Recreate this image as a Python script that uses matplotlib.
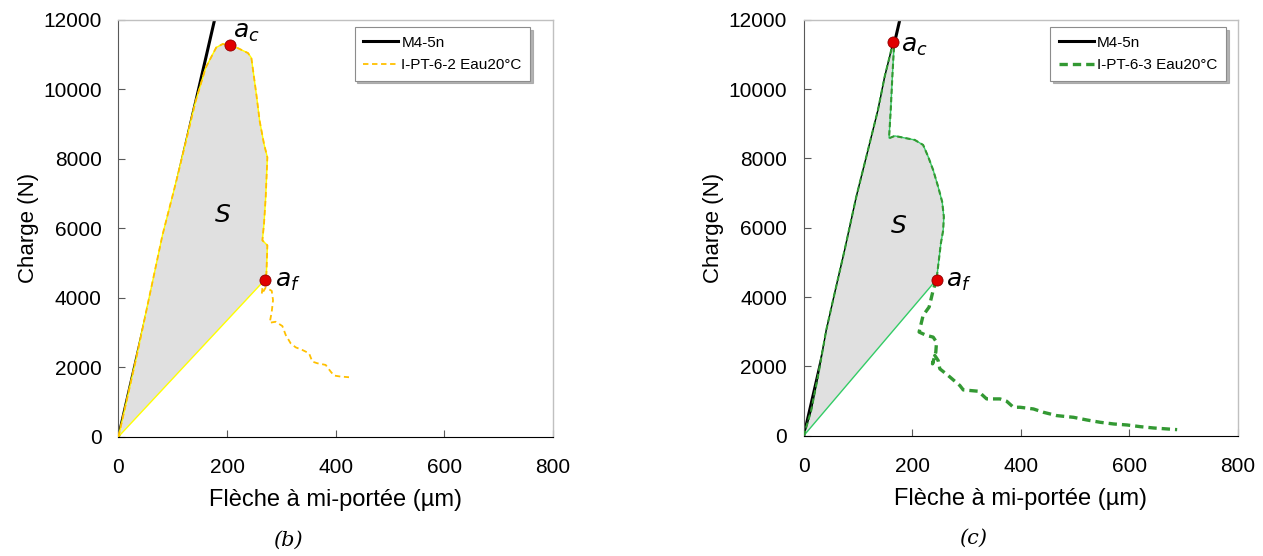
import numpy as np
import matplotlib
matplotlib.use('Agg')
import matplotlib.pyplot as plt

plt.rcParams['font.family'] = ['Liberation Sans', 'DejaVu Sans']

# reference curve M4-5n (straight line from origin)
ref_x = [0, 185]
ref_y = [0, 12540]

# panel (b): I-PT-6-2 Eau20°C
b_load_x = [0, 32, 62.6, 81, 105.6, 142, 160.7, 180, 192, 204.8, 220, 238.5, 244.7, 253.9, 260,
            268, 274.2, 271.1, 268, 265, 274.2, 272.4, 270]
b_load_y = [0, 2208, 4450, 5800, 7300, 9650, 10621, 11200, 11300, 11260, 11180, 11040, 10900, 9850, 9083,
            8422, 8039, 6892, 6128, 5650, 5506, 4694, 4522]
b_post_x = [270, 265, 263.8, 271.1, 282.2, 284.6, 282.2, 278.5, 289.5, 301.8, 308, 317.1, 326.3,
            338.6, 350.9, 357, 366.2, 381.5, 390.7, 396.9, 409, 424.5]
b_post_y = [4522, 4264, 4100, 4293, 4197, 3929, 3594, 3279, 3307, 3183, 2925, 2686, 2571,
            2495, 2400, 2160, 2113, 2065, 1874, 1759, 1730, 1711]
b_ac = (204.8, 11260)
b_af = (270, 4522)

# panel (c): I-PT-6-3 Eau20°C
c_load_x = [0, 13.6, 25.9, 41.3, 56.7, 75.2, 96.8, 118.4, 136.8, 149.2, 158.4, 164.6, 166.4, 163.3,
            160.3, 157.2, 167.7, 186.1, 204.6, 220, 229.3, 238.5, 247.7, 255.1, 258.2, 257, 252.7,
            249, 244.7]
c_load_y = [0, 723, 1687, 3037, 4098, 5351, 6894, 8244, 9401, 10365, 10944, 11349, 11233, 10365,
            9401, 8582, 8649, 8591, 8533, 8389, 8051, 7666, 7183, 6750, 6316, 5930, 5544,
            5062, 4503]
c_post_x = [244.7, 238.5, 231.1, 220, 212.6, 226.2, 238.5, 244.7, 243.4, 237.3, 241.6, 247.7,
            250.8, 266.2, 287.8, 294, 321.7, 337.1, 361.7, 374.1, 386.4, 398.7, 423.4, 441.8,
            466.5, 497.3, 521.9, 546.6, 571.2, 595.9, 620.5, 645.2, 688.3]
c_post_y = [4503, 4194, 3712, 3471, 2989, 2893, 2844, 2700, 2410, 2073, 2314, 2170,
            1929, 1736, 1446, 1321, 1282, 1061, 1061, 993, 820, 820, 771, 675,
            579, 530, 453, 386, 338, 309, 260, 222, 174]
c_ac = (164.6, 11349)
c_af = (244.7, 4503)

fig = plt.figure(figsize=(12.63, 5.56), dpi=100)
ax_b = fig.add_axes([0.0938, 0.2146, 0.344, 0.75])
ax_c = fig.add_axes([0.6364, 0.2164, 0.3436, 0.748])

panels = [
    dict(ax=ax_b, lx=b_load_x, ly=b_load_y, px=b_post_x, py=b_post_y, ac=b_ac, af=b_af,
         lab='I-PT-6-2 Eau20°C', dcol='#FFC000', ecol='#FFFF00', lw_load=1.3, lw_post=1.3,
         dash=(3, 2), edge_black=False, ac_off=(5.5, 230), af_off=(18, -216), spos=(192, 6390),
         tag='(b)', tag_x=0.39, leg_x=0.965),
    dict(ax=ax_c, lx=c_load_x, ly=c_load_y, px=c_post_x, py=c_post_y, ac=c_ac, af=c_af,
         lab='I-PT-6-3 Eau20°C', dcol='#339933', ecol='#33CC66', lw_load=1.5, lw_post=2.4,
         dash=(2.5, 1.5), edge_black=True, ac_off=(15, -260), af_off=(18, -213), spos=(174, 6060),
         tag='(c)', tag_x=0.39, leg_x=0.99),
]

for p in panels:
    ax = p['ax']
    ax.plot(ref_x, ref_y, color='black', lw=2.2, zorder=2, label='M4-5n')
    # area S between loading curve and chord af -> origin
    ax.fill(list(p['lx']) + [0], list(p['ly']) + [0], facecolor='#E0E0E0',
            edgecolor=p['ecol'], lw=1.0, zorder=3)
    if p['edge_black']:
        n = p['lx'].index(p['ac'][0]) + 1
        ax.plot(p['lx'][:n], p['ly'][:n], color='black', lw=0.9, zorder=3.5)
    ax.plot(p['lx'], p['ly'], color=p['dcol'], lw=p['lw_load'], dashes=p['dash'], zorder=4)
    ax.plot(p['px'], p['py'], color=p['dcol'], lw=p['lw_post'], dashes=p['dash'], zorder=4)
    # legend proxy for the test curve
    ax.plot([], [], color=p['dcol'], lw=p['lw_post'], dashes=p['dash'], label=p['lab'])
    for pt in (p['ac'], p['af']):
        ax.plot(pt[0], pt[1], 'o', ms=8, mfc='#E00000', mec='#900000', mew=0.6, zorder=6)
    ac, af = p['ac'], p['af']
    ax.text(ac[0] + p['ac_off'][0], ac[1] + p['ac_off'][1], '$a_c$', fontsize=18,
            va='baseline', ha='left', zorder=7)
    ax.text(af[0] + p['af_off'][0], af[1] + p['af_off'][1], '$a_f$', fontsize=18,
            va='baseline', ha='left', zorder=7)
    ax.text(p['spos'][0], p['spos'][1], '$S$', fontsize=18, ha='center', va='center', zorder=7)

    ax.set_xlim(0, 800)
    ax.set_ylim(0, 12000)
    ax.set_xticks([0, 200, 400, 600, 800])
    ax.set_yticks(range(0, 12001, 2000))
    ax.tick_params(direction='in', labelsize=15, length=5, color='#595959')
    ax.tick_params(axis='y', pad=12)
    ax.tick_params(axis='x', pad=15)
    for s in ('top', 'right'):
        ax.spines[s].set_color('#C0C0C0')
        ax.spines[s].set_linewidth(1.0)
    ax.spines['left'].set_color('#595959')
    ax.spines['bottom'].set_color('black')
    ax.set_xlabel('Flèche à mi-portée (µm)', fontsize=17, labelpad=9)
    ax.set_ylabel('Charge (N)', fontsize=16, labelpad=3)
    leg = ax.legend(loc='upper right', bbox_to_anchor=(p['leg_x'], 1.0), fontsize=11,
                    frameon=True, fancybox=False,
                    shadow={'color': '#A0A0A0', 'alpha': 0.8},
                    handlelength=2.3, borderpad=0.55, labelspacing=0.55, handletextpad=0.2)
    leg.get_frame().set_edgecolor('#8C8C8C')
    leg.get_frame().set_linewidth(0.8)
    ax.text(p['tag_x'], -0.225, p['tag'], transform=ax.transAxes,
            fontsize=15, style='italic', family='DejaVu Serif', ha='center', va='top')

fig.savefig('out.png', dpi=100)
